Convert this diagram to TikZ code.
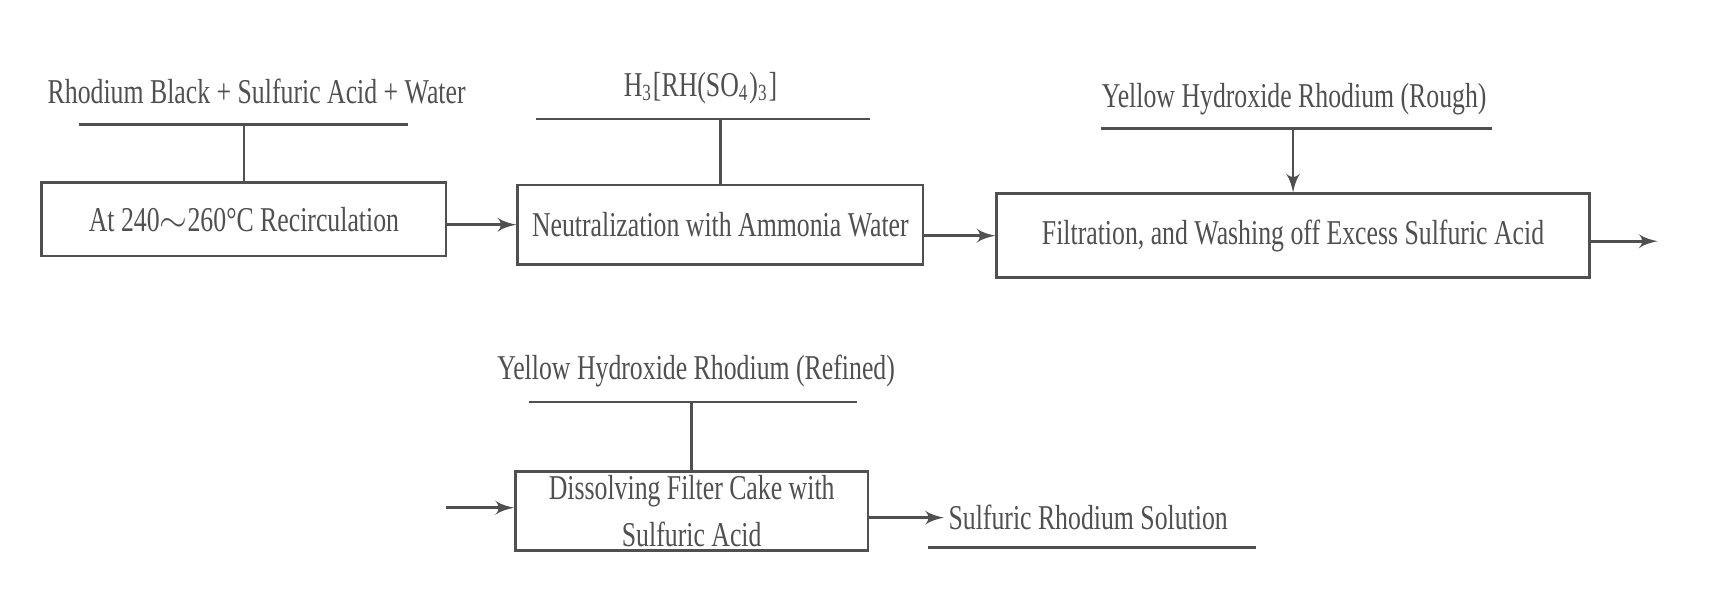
\documentclass[tikz,border=0pt]{standalone}
\usepackage{fontspec}
\setmainfont{Liberation Serif}[FakeStretch=0.74]
\usepackage{tikz}
\usetikzlibrary{shapes,arrows}
\usetikzlibrary{calc,positioning}
\usepackage{xcolor}
\definecolor{ink}{HTML}{505050}
\tikzstyle{arrow} = [ink,line width=0.7pt,->,>=latex']
\tikzstyle{line} = [ink,line width=0.7pt]
\tikzset{
    block/.style = {draw=ink, line width=0.7pt, fill=white, rectangle, inner sep=1pt},
    label/.style = {text=ink, inner sep=1pt},
}

\begin{document}
\begin{tikzpicture}[font=\fontsize{9}{12.2}\selectfont, text=ink, align=center]
    \useasboundingbox (0,0) rectangle (15.68,5.49);

    % top row
    \node [label] (black) at (2.33,4.66) {Rhodium Black + Sulfuric Acid + Water};
    \coordinate (blackw) at (0.72,4.36);
    \coordinate (blacke) at (3.70,4.36);
    \node [block, minimum width=3.67cm, minimum height=0.67cm] (reflux) at (2.215,3.50) {At 240$\sim$260°C Recirculation};

    \node [label] (sulfato) at (6.36,4.69) {H\textsubscript{3}[RH(SO\textsubscript{4})\textsubscript{3}]};
    \coordinate (sulfatow) at (4.87,4.41);
    \coordinate (sulfatoe) at (7.90,4.41);
    \node [block, minimum width=3.68cm, minimum height=0.72cm] (neutral) at (6.54,3.45) {Neutralization with Ammonia Water};

    \node [label] (rough) at (11.75,4.59) {Yellow Hydroxide Rhodium (Rough)};
    \coordinate (roughw) at (10.00,4.32);
    \coordinate (roughe) at (13.55,4.32);
    \node [block, minimum width=5.38cm, minimum height=0.76cm] (filter) at (11.74,3.35) {Filtration, and Washing off Excess Sulfuric Acid};
    \coordinate (next) at (15.05,3.30);

    % bottom row
    \node [label] (refined) at (6.32,2.12) {Yellow Hydroxide Rhodium (Refined)};
    \coordinate (refinedw) at (4.80,1.84);
    \coordinate (refinede) at (7.78,1.84);
    \node [block, minimum width=3.20cm, minimum height=0.68cm] (dissolve) at (6.28,0.85) {Dissolving Filter Cake with\\Sulfuric Acid};
    \coordinate (prev) at (4.05,0.88);

    \node [label] (product) at (9.88,0.79) {Sulfuric Rhodium Solution};
    \coordinate (productw) at (8.43,0.52);
    \coordinate (producte) at (11.40,0.52);

    \draw [line] (blackw) -- (blacke);
    \draw [line] (sulfatow) -- (sulfatoe);
    \draw [line] (roughw) -- (roughe);
    \draw [line] (refinedw) -- (refinede);
    \draw [line] (productw) -- (producte);

    \draw [line] (reflux.north |- blackw) -- (reflux.north);
    \draw [line] (neutral.north |- sulfatow) -- (neutral.north);
    \draw [arrow] (filter.north |- roughw) -- (filter.north);
    \draw [line] (dissolve.north |- refinedw) -- (dissolve.north);

    \draw [arrow] (reflux.east |- neutral) -- (neutral.west);
    \draw [arrow] (neutral.east |- filter) -- (filter.west);
    \draw [arrow] (filter.east |- next) -- (next);
    \draw [arrow] (prev) -- (dissolve.west |- prev);
    \draw [arrow] (dissolve.east |- product) -- (product.west);
\end{tikzpicture}
\end{document}
